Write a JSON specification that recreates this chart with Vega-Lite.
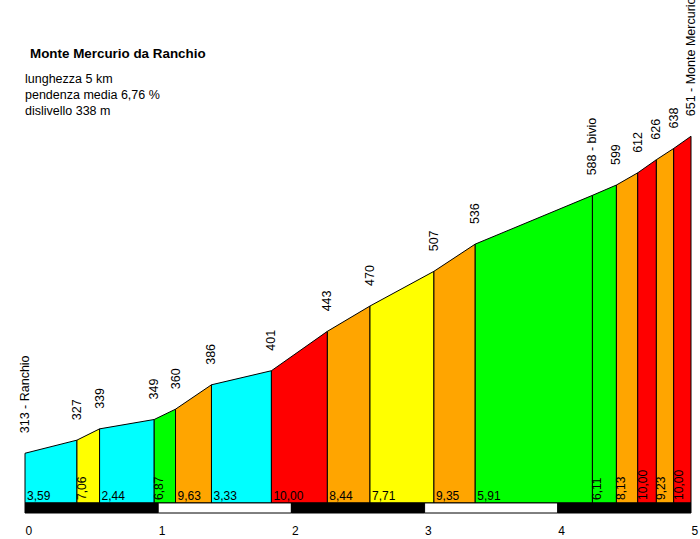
{
  "$schema": "https://vega.github.io/schema/vega-lite/v6.json",
  "autosize": {"type": "none"},
  "width": 666,
  "height": 393,
  "padding": {"left": 25, "top": 120, "right": 9, "bottom": 26},
  "background": "white",
  "title": {
    "text": "Monte Mercurio da Ranchio",
    "subtitle": ["lunghezza 5 km", "pendenza media 6,76 %", "dislivello 338 m"],
    "anchor": "start",
    "frame": "group",
    "orient": "top",
    "offset": -120,
    "font": "Liberation Sans",
    "fontSize": 13.4,
    "fontWeight": "bold",
    "color": "black",
    "subtitleFont": "Liberation Sans",
    "subtitleFontSize": 12.5,
    "subtitleColor": "black",
    "subtitleLineHeight": 16,
    "subtitlePadding": 12.6,
    "encode": {"title": {"update": {"dx": {"value": 5}}}}
  },
  "config": {
    "view": {"stroke": null},
    "locale": {"number": {"decimal": ",", "thousands": ".", "grouping": [3], "currency": ["", " €"]}},
    "text": {"font": "Liberation Sans", "fontSize": 12, "color": "black"}
  },
  "datasets": {
    "tratti": [
      {"tratto": 1, "km": [0.00, 0.39], "quota": [313, 327], "pct": 3.59},
      {"tratto": 2, "km": [0.39, 0.56], "quota": [327, 339], "pct": 7.06},
      {"tratto": 3, "km": [0.56, 0.97], "quota": [339, 349], "pct": 2.44},
      {"tratto": 4, "km": [0.97, 1.13], "quota": [349, 360], "pct": 6.87},
      {"tratto": 5, "km": [1.13, 1.40], "quota": [360, 386], "pct": 9.63},
      {"tratto": 6, "km": [1.40, 1.85], "quota": [386, 401], "pct": 3.33},
      {"tratto": 7, "km": [1.85, 2.27], "quota": [401, 443], "pct": 10.00},
      {"tratto": 8, "km": [2.27, 2.59], "quota": [443, 470], "pct": 8.44},
      {"tratto": 9, "km": [2.59, 3.07], "quota": [470, 507], "pct": 7.71},
      {"tratto": 10, "km": [3.07, 3.38], "quota": [507, 536], "pct": 9.35},
      {"tratto": 11, "km": [3.38, 4.26], "quota": [536, 588], "pct": 5.91},
      {"tratto": 12, "km": [4.26, 4.44], "quota": [588, 599], "pct": 6.11},
      {"tratto": 13, "km": [4.44, 4.60], "quota": [599, 612], "pct": 8.13},
      {"tratto": 14, "km": [4.60, 4.74], "quota": [612, 626], "pct": 10.00},
      {"tratto": 15, "km": [4.74, 4.87], "quota": [626, 638], "pct": 9.23},
      {"tratto": 16, "km": [4.87, 5.00], "quota": [638, 651], "pct": 10.00}
    ],
    "punti": [
      {"km": 0.00, "quota": 313, "nome": "Ranchio"},
      {"km": 0.39, "quota": 327, "nome": ""},
      {"km": 0.56, "quota": 339, "nome": ""},
      {"km": 0.97, "quota": 349, "nome": ""},
      {"km": 1.13, "quota": 360, "nome": ""},
      {"km": 1.40, "quota": 386, "nome": ""},
      {"km": 1.85, "quota": 401, "nome": ""},
      {"km": 2.27, "quota": 443, "nome": ""},
      {"km": 2.59, "quota": 470, "nome": ""},
      {"km": 3.07, "quota": 507, "nome": ""},
      {"km": 3.38, "quota": 536, "nome": ""},
      {"km": 4.26, "quota": 588, "nome": "bivio"},
      {"km": 4.44, "quota": 599, "nome": ""},
      {"km": 4.60, "quota": 612, "nome": ""},
      {"km": 4.74, "quota": 626, "nome": ""},
      {"km": 4.87, "quota": 638, "nome": ""},
      {"km": 5.00, "quota": 651, "nome": "Monte Mercurio"}
    ],
    "scala": [
      {"da": 0, "a": 1},
      {"da": 1, "a": 2},
      {"da": 2, "a": 3},
      {"da": 3, "a": 4},
      {"da": 4, "a": 5}
    ]
  },
  "layer": [
    {
      "data": {"name": "tratti"},
      "transform": [{"flatten": ["km", "quota"]}],
      "mark": {"type": "area", "stroke": "black", "strokeWidth": 1, "strokeJoin": "miter", "interpolate": "linear"},
      "encoding": {
        "x": {
          "field": "km", "type": "quantitative",
          "scale": {"domain": [0, 5], "nice": false, "zero": false},
          "axis": {
            "orient": "bottom", "values": [0, 1, 2, 3, 4, 5], "format": "d",
            "domain": false, "ticks": false, "grid": false, "title": null,
            "labelAlign": "left", "labelPadding": 12, "labelFont": "Liberation Sans",
            "labelFontSize": 12, "labelColor": "black", "labelFlush": false, "labelOverlap": false
          }
        },
        "y": {
          "field": "quota", "type": "quantitative",
          "scale": {"domain": [249.3, 668.34], "nice": false, "zero": false},
          "axis": null
        },
        "y2": {"datum": 260},
        "fill": {
          "field": "pct", "type": "quantitative",
          "scale": {"type": "threshold", "domain": [5, 7, 8, 10], "range": ["#00FFFF", "#00FF00", "#FFFF00", "#FFA500", "#FF0000"]},
          "legend": null
        },
        "detail": {"field": "tratto", "type": "nominal"}
      }
    },
    {
      "data": {"name": "scala"},
      "mark": {"type": "rect", "stroke": "black", "strokeWidth": 1},
      "encoding": {
        "x": {"field": "da", "type": "quantitative"},
        "x2": {"field": "a"},
        "y": {"datum": 260},
        "y2": {"datum": 249.3},
        "fill": {
          "field": "da", "type": "ordinal",
          "scale": {"domain": [0, 1, 2, 3, 4], "range": ["black", "white", "black", "white", "black"]},
          "legend": null
        }
      }
    },
    {
      "data": {"name": "tratti"},
      "transform": [{"filter": "datum.km[1] - datum.km[0] >= 0.2"}],
      "mark": {"type": "text", "align": "left", "baseline": "alphabetic", "dx": 2, "dy": -3},
      "encoding": {
        "x": {"field": "km[0]", "type": "quantitative"},
        "y": {"datum": 260},
        "text": {"field": "pct", "type": "quantitative", "format": ".2f"}
      }
    },
    {
      "data": {"name": "tratti"},
      "transform": [{"filter": "datum.km[1] - datum.km[0] < 0.2"}],
      "mark": {"type": "text", "angle": 270, "align": "left", "baseline": "top", "dx": 3, "dy": 0},
      "encoding": {
        "x": {"field": "km[0]", "type": "quantitative"},
        "y": {"datum": 260},
        "text": {"field": "pct", "type": "quantitative", "format": ".2f"}
      }
    },
    {
      "data": {"name": "punti"},
      "transform": [
        {"calculate": "datum.nome ? datum.quota + ' - ' + datum.nome : '' + datum.quota", "as": "etichetta"}
      ],
      "mark": {"type": "text", "angle": 270, "align": "left", "baseline": "middle", "dx": 20, "fontSize": 12.5},
      "encoding": {
        "x": {"field": "km", "type": "quantitative"},
        "y": {"field": "quota", "type": "quantitative"},
        "text": {"field": "etichetta", "type": "nominal"}
      }
    }
  ]
}
